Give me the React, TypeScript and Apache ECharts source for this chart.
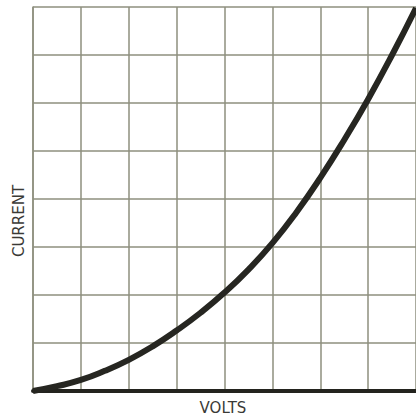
import React, { useEffect, useRef } from "react";
import * as echarts from "echarts";

const voltTicks = [0, 1, 2, 3, 4, 5, 6, 7, 8];
const volts = [0, 0.5, 1, 1.5, 2, 2.5, 3, 3.5, 4, 4.5, 5, 5.5, 6, 6.5, 7, 7.5, 8];
const current = [0, 0.1, 0.23, 0.42, 0.65, 0.93, 1.26, 1.63, 2.05, 2.53, 3.08, 3.72, 4.44, 5.23, 6.08, 7.0, 7.98];
const xLabel = "VOLTS";
const yLabel = "CURRENT";

export default function App() {
  const ref = useRef<HTMLDivElement>(null);
  useEffect(() => {
    if (!ref.current) return;
    const chart = echarts.init(ref.current, null, { renderer: "svg" });
    const gridColor = "#8e8f7e";
    const font = "15px 'DejaVu Sans', sans-serif";
    chart.setOption({
      animation: false,
      backgroundColor: "#ffffff",
      grid: { left: 33, top: 7, width: 384, height: 384 },
      xAxis: {
        type: "value",
        min: voltTicks[0],
        max: voltTicks[voltTicks.length - 1],
        interval: 1,
        axisLine: { show: true, lineStyle: { color: "#23231e", width: 4 } },
        axisTick: { show: false },
        axisLabel: { show: false },
        splitLine: { show: true, lineStyle: { color: gridColor, width: 1.5 } },
      },
      yAxis: {
        type: "value",
        min: 0,
        max: 8,
        interval: 1,
        axisLine: { show: true, lineStyle: { color: gridColor, width: 1.5 } },
        axisTick: { show: false },
        axisLabel: { show: false },
        splitLine: { show: true, lineStyle: { color: gridColor, width: 1.5 } },
      },
      graphic: [
        {
          type: "text",
          x: 223,
          y: 408,
          style: {
            text: xLabel,
            fill: "#3a3a36",
            font,
            textAlign: "center",
            textVerticalAlign: "middle",
          },
        },
        {
          type: "text",
          x: 18.5,
          y: 221,
          rotation: Math.PI / 2,
          style: {
            text: yLabel,
            fill: "#3a3a36",
            font,
            textAlign: "center",
            textVerticalAlign: "middle",
          },
        },
      ],
      series: [
        {
          type: "line",
          data: volts.map((v, i) => [v, current[i]]),
          smooth: 0.5,
          symbol: "none",
          clip: false,
          lineStyle: { color: "#262621", width: 6 },
        },
      ],
    });
    return () => chart.dispose();
  }, []);
  return (
    <div
      ref={ref}
      style={{ position: "absolute", left: 0, top: 0, width: 416, height: 418 }}
    />
  );
}
